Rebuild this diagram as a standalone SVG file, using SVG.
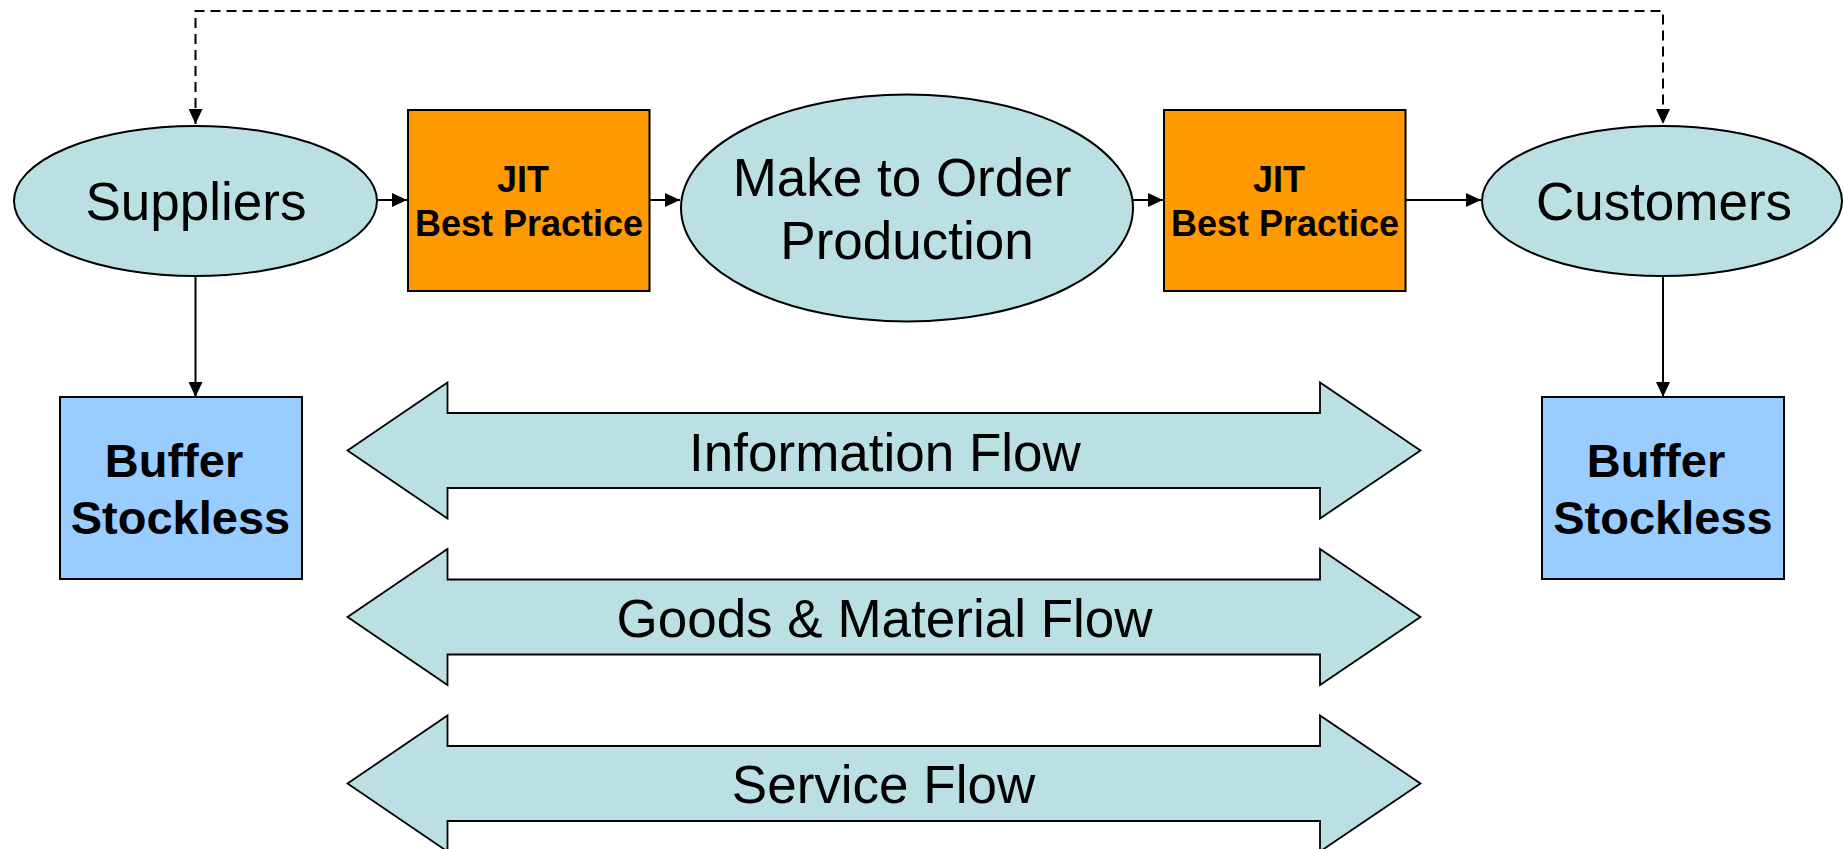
<svg xmlns="http://www.w3.org/2000/svg" width="1843" height="849" viewBox="0 0 1843 849">
  <style>
    .ell { fill: #BAE0E3; stroke: #000; stroke-width: 2; }
    .jit { fill: #FF9900; stroke: #000; stroke-width: 2; }
    .buf { fill: #99CCFF; stroke: #000; stroke-width: 2; }
    .flow { fill: #BAE0E3; stroke: #000; stroke-width: 1.8; }
    .conn { fill: none; stroke: #000; stroke-width: 2; }
    .dash { stroke-dasharray: 10 6; }
    .t { font-family: "Liberation Sans", Arial, sans-serif; fill: #000; text-anchor: middle; }
    .big { font-size: 53px; }
    .bold36 { font-size: 36px; font-weight: bold; }
    .bold47 { font-size: 47px; font-weight: bold; }
  </style>
  <defs>
    <marker id="ah" markerUnits="userSpaceOnUse" markerWidth="15" markerHeight="14" refX="15" refY="7" orient="auto-start-reverse">
      <path d="M0,0 L15,7 L0,14 z" fill="#000"/>
    </marker>
  </defs>
  <rect width="1843" height="849" fill="#fff"/>

  <g id="connectors">
    <path class="conn dash" d="M195.5,124 V11 H1663 V124" marker-start="url(#ah)" marker-end="url(#ah)"/>
    <path class="conn" d="M377,200 H407" marker-end="url(#ah)"/>
    <path class="conn" d="M649.5,200 H680" marker-end="url(#ah)"/>
    <path class="conn" d="M1133,200 H1163" marker-end="url(#ah)"/>
    <path class="conn" d="M1406,200 H1481" marker-end="url(#ah)"/>
    <path class="conn" d="M195.5,276 V397" marker-end="url(#ah)"/>
    <path class="conn" d="M1663,276 V397" marker-end="url(#ah)"/>
  </g>

  <g id="suppliers">
    <ellipse class="ell" cx="195.5" cy="201" rx="181.5" ry="75"/>
    <text class="t big" x="196" y="220">Suppliers</text>
  </g>

  <g id="jit1">
    <rect class="jit" x="408" y="110" width="241.5" height="181"/>
    <text class="t bold36" x="523" y="192">JIT</text>
    <text class="t bold36" x="529" y="236">Best Practice</text>
  </g>

  <g id="make-to-order">
    <ellipse class="ell" cx="907" cy="208" rx="226" ry="113.5"/>
    <text class="t big" x="902" y="196">Make to Order</text>
    <text class="t big" x="907" y="259">Production</text>
  </g>

  <g id="jit2">
    <rect class="jit" x="1164" y="110" width="241.5" height="181"/>
    <text class="t bold36" x="1279" y="192">JIT</text>
    <text class="t bold36" x="1285" y="236">Best Practice</text>
  </g>

  <g id="customers">
    <ellipse class="ell" cx="1662" cy="201" rx="180" ry="75"/>
    <text class="t big" x="1664" y="220">Customers</text>
  </g>

  <g id="buffer-left">
    <rect class="buf" x="60" y="397" width="242" height="182"/>
    <text class="t bold47" x="174" y="477">Buffer</text>
    <text class="t bold47" x="180.5" y="534">Stockless</text>
  </g>

  <g id="buffer-right">
    <rect class="buf" x="1542" y="397" width="242" height="182"/>
    <text class="t bold47" x="1656" y="477">Buffer</text>
    <text class="t bold47" x="1663" y="534">Stockless</text>
  </g>

  <g id="information-flow">
    <polygon class="flow" points="347.5,450.5 447.5,382.5 447.5,413 1320,413 1320,382.5 1420.5,450.5 1320,518.5 1320,488 447.5,488 447.5,518.5"/>
    <text class="t big" x="885" y="471">Information Flow</text>
  </g>

  <g id="goods-material-flow">
    <polygon class="flow" points="347.5,617 447.5,549 447.5,579.5 1320,579.5 1320,549 1420.5,617 1320,685 1320,654.5 447.5,654.5 447.5,685"/>
    <text class="t big" x="884.5" y="637">Goods &amp; Material Flow</text>
  </g>

  <g id="service-flow">
    <polygon class="flow" points="347.5,783.5 447.5,715.5 447.5,746 1320,746 1320,715.5 1420.5,783.5 1320,851.5 1320,821 447.5,821 447.5,851.5"/>
    <text class="t big" x="883.5" y="803">Service Flow</text>
  </g>
</svg>
